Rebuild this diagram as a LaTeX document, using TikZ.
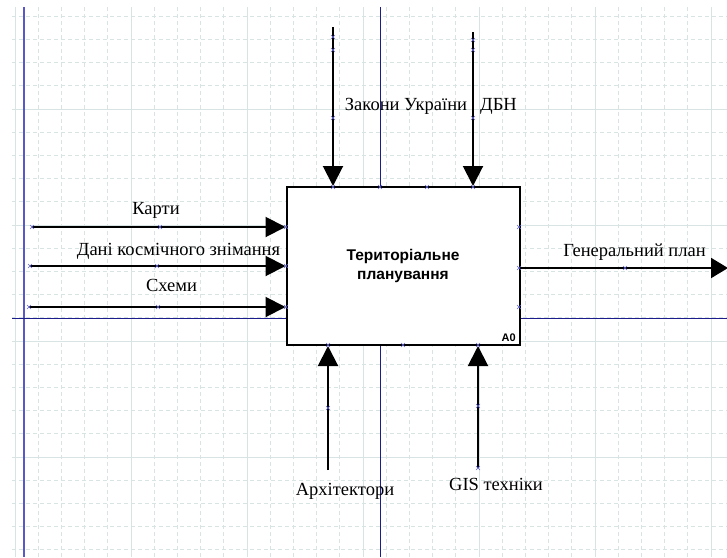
\documentclass[tikz,border=0pt]{standalone}
\usepackage{fontspec}
\setmainfont{Liberation Serif}
\newfontfamily\boxfont{Liberation Sans}
\usetikzlibrary{arrows.meta}

\definecolor{gridc}{RGB}{216,228,228}
\definecolor{bluec}{RGB}{88,88,200}
\definecolor{navyc}{RGB}{28,28,140}
\definecolor{markc}{RGB}{96,96,210}

\tikzset{
  gridline/.style={gridc, line width=0.8pt},
  griddash/.style={gridline, dash pattern=on 4pt off 3pt},
  flow/.style={line width=2pt, -{Triangle[length=20pt,width=20pt]}},
  lbl/.style={font=\fontsize{18.5}{20}\selectfont, anchor=base, inner sep=0pt},
  procbox/.style={draw, line width=2pt, fill=white, minimum width=233pt,
    minimum height=158pt, inner sep=0pt,
    font=\boxfont\bfseries\fontsize{15.5}{19}\selectfont, align=center},
  marker/.style={markc, line width=0.6pt}
}

\begin{document}
\begin{tikzpicture}[x=1pt, y=-1pt]
\useasboundingbox (0,0) rectangle (727,557);
\fill[white] (0,0) rectangle (727,557);

% drawing grid
\foreach \k in {0,...,30}
  \draw[griddash] ({15+23.2*\k},7) -- ({15+23.2*\k},557);
\foreach \k in {0,5,...,30}
  \draw[gridline] ({15+23.2*\k},7) -- ({15+23.2*\k},557);
\foreach \k in {0,...,23}
  \draw[griddash] (12,{16.2+23.2*\k}) -- (727,{16.2+23.2*\k});
\foreach \k in {4,9,14,19}
  \draw[gridline] (12,{16.2+23.2*\k}) -- (727,{16.2+23.2*\k});

% page guides
\draw[bluec, line width=1.6pt] (24,7) -- (24,557);
\draw[navyc, line width=1pt] (380.5,7) -- (380.5,557);
\draw[navyc, line width=1pt] (12,318.5) -- (727,318.5);

% activity box
\node[procbox] (proc) at (403,266) {Територіальне\\планування};
\node[font=\boxfont\bfseries\fontsize{11}{12}\selectfont, anchor=base east, inner sep=0pt]
  (num) at (516,341) {A0};

% connector end points
\coordinate (c1) at (333,27);
\coordinate (c2) at (473,32);
\coordinate (i1) at (32,227);
\coordinate (i2) at (30,266);
\coordinate (i3) at (29,307);
\coordinate (o1) at (728,268);
\coordinate (m1) at (328,470);
\coordinate (m2) at (478,468);

% controls
\draw[flow] (c1) -- (c1 |- proc.north);
\draw[flow] (c2) -- (c2 |- proc.north);
% inputs
\draw[flow] (i1) -- (i1 -| proc.west);
\draw[flow] (i2) -- (i2 -| proc.west);
\draw[flow] (i3) -- (i3 -| proc.west);
% output
\draw[line width=2pt, -{Triangle[length=17pt,width=20pt]}] (o1 -| proc.east) -- (o1);
% mechanisms
\draw[flow] (m1) -- (m1 |- proc.south);
\draw[flow] (m2) -- (m2 |- proc.south);

% labels
\node[lbl] (lc1) at (406,110) {Закони України};
\node[lbl] (lc2) at (498.5,110) {ДБН};
\node[lbl] (li1) at (156,214) {Карти};
\node[lbl] (li2) at (178.5,255) {Дані космічного знімання};
\node[lbl] (li3) at (171.5,291.5) {Схеми};
\node[lbl] (lo1) at (634.5,256) {Генеральний план};
\node[lbl] (lm1) at (345,495) {Архітектори};
\node[lbl] (lm2) at (496,490) {GIS техніки};

% handle markers
\foreach \p in {(333,37),(333,50),(333,118),(473,40),(473,50),(473,118),
  (333,187),(380,187),(427,187),(473,187),
  (32,227),(160,227),(30,266),(157,266),(29,307),(158,307),
  (286,227),(286,266),(286,307),
  (519,227),(519,268),(519,307),(625,268),
  (328,345),(403,345),(478,345),(328,408),(478,406),(478,468)}
  \draw[marker] \p ++(-2,-2) -- ++(4,4) \p ++(-2,2) -- ++(4,-4);
\end{tikzpicture}
\end{document}
